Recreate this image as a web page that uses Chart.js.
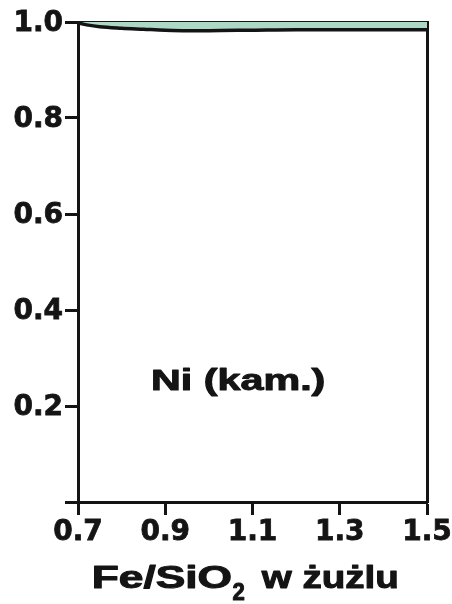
<!DOCTYPE html>
<html><head><meta charset="utf-8">
<script src="https://cdn.jsdelivr.net/npm/chart.js@4"></script>
<style>html,body{margin:0;padding:0;background:#fff}canvas{display:block}</style>
</head><body>
<canvas id="c" width="452" height="604"></canvas>
<script>
// ---- data ----
const feSiO2 = [0.70, 0.72, 0.75, 0.80, 0.85, 0.90, 0.95, 1.00, 1.10, 1.20, 1.30, 1.40, 1.50];
const niFraction = [0.998, 0.994, 0.990, 0.987, 0.985, 0.983, 0.982, 0.982, 0.983, 0.984, 0.984, 0.984, 0.984];
const xTickValues = [0.7, 0.9, 1.1, 1.3, 1.5];
const yTickValues = [0, 0.2, 0.4, 0.6, 0.8, 1.0];
const annotationText = 'Ni (kam.)';
const titleMain = 'Fe/SiO';
const titleSub = '2';
const titleRest = 'w żużlu';

const FONT = '"Liberation Sans", Arial, Helvetica, sans-serif';
const TICK_FONT = '"DejaVu Sans", "Liberation Sans", sans-serif';
const INK = '#141414';

function drawStretched(ctx, text, font, left, right, baseline, stroke) {
  ctx.save();
  ctx.font = font;
  ctx.textAlign = 'left';
  ctx.textBaseline = 'alphabetic';
  const m = ctx.measureText(text);
  const inkW = m.actualBoundingBoxLeft + m.actualBoundingBoxRight;
  const sx = (right - left - stroke) / inkW;
  ctx.translate(left + stroke / 2, baseline);
  ctx.scale(sx, 1);
  ctx.fillStyle = INK;
  ctx.strokeStyle = INK;
  ctx.lineWidth = stroke;
  ctx.lineJoin = 'round';
  ctx.fillText(text, m.actualBoundingBoxLeft, 0);
  if (stroke > 0) ctx.strokeText(text, m.actualBoundingBoxLeft, 0);
  ctx.restore();
}

const textPlugin = {
  id: 'texts',
  afterDraw(chart) {
    const ctx = chart.ctx;
    const xs = chart.scales.x, ys = chart.scales.y;
    // annotation inside plot
    drawStretched(ctx, annotationText, 'bold 29px ' + FONT,
      xs.getPixelForValue(0.8696), xs.getPixelForValue(1.266), ys.getPixelForValue(0.233), 1);
    // x-axis title with subscript
    drawStretched(ctx, titleMain, 'bold 31px ' + FONT, 94, 231, 588, 1);
    drawStretched(ctx, titleSub, 'bold 24px ' + FONT, 232, 245, 600, 1);
    drawStretched(ctx, titleRest, 'bold 31px ' + FONT, 260, 397, 588, 1);
  }
};

const setTicks = (vals) => (scale) => { scale.ticks = vals.map(v => ({ value: v })); };

const frameAxis = (pos, min, max) => ({
  type: 'linear', position: pos, min: min, max: max,
  ticks: { display: false },
  grid: { display: false, drawTicks: false },
  border: { display: true, color: INK, width: 3 },
  afterFit(s) { if (pos === 'top') s.height = 0; else s.width = 0; }
});

const tickFont = { family: TICK_FONT, weight: 'bold', size: 28, lineHeight: 1 };

new Chart(document.getElementById('c'), {
  type: 'line',
  data: {
    datasets: [{
      data: feSiO2.map((x, i) => ({ x: x, y: niFraction[i] })),
      borderColor: INK,
      borderWidth: 3.5,
      backgroundColor: '#acd9c6',
      fill: 'end',
      pointRadius: 0,
      cubicInterpolationMode: 'monotone'
    }]
  },
  options: {
    responsive: false,
    devicePixelRatio: 1,
    animation: false,
    events: [],
    layout: { padding: { left: 0, right: 25, top: 22, bottom: 0 } },
    plugins: { legend: { display: false }, tooltip: { enabled: false }, title: { display: false } },
    scales: {
      x: {
        type: 'linear', position: 'bottom', min: 0.7, max: 1.5,
        afterBuildTicks: setTicks(xTickValues),
        afterFit(s) { s.height = 102; s.paddingRight = 20; s.paddingLeft = 20; },
        ticks: {
          color: INK, padding: 4, maxRotation: 0, autoSkip: false,
          font: tickFont, textStrokeColor: INK, textStrokeWidth: 0.8,
          callback: v => Number(v).toFixed(1)
        },
        grid: { drawOnChartArea: false, drawTicks: true, tickLength: 13, tickWidth: 3, color: INK },
        border: { display: true, color: INK, width: 3 }
      },
      y: {
        type: 'linear', position: 'left', min: 0, max: 1,
        afterBuildTicks: setTicks(yTickValues),
        afterFit(s) { s.width = 78; },
        ticks: {
          color: INK, padding: 2, autoSkip: false, labelOffset: 2,
          font: tickFont, textStrokeColor: INK, textStrokeWidth: 0.8,
          callback: v => (v === 0 ? '' : Number(v).toFixed(1))
        },
        grid: { drawOnChartArea: false, drawTicks: true, tickLength: 13, tickWidth: 3, color: INK },
        border: { display: true, color: INK, width: 3 }
      },
      xTop: frameAxis('top', 0.7, 1.5),
      yRight: frameAxis('right', 0, 1)
    }
  },
  plugins: [textPlugin]
});
</script>
</body></html>
